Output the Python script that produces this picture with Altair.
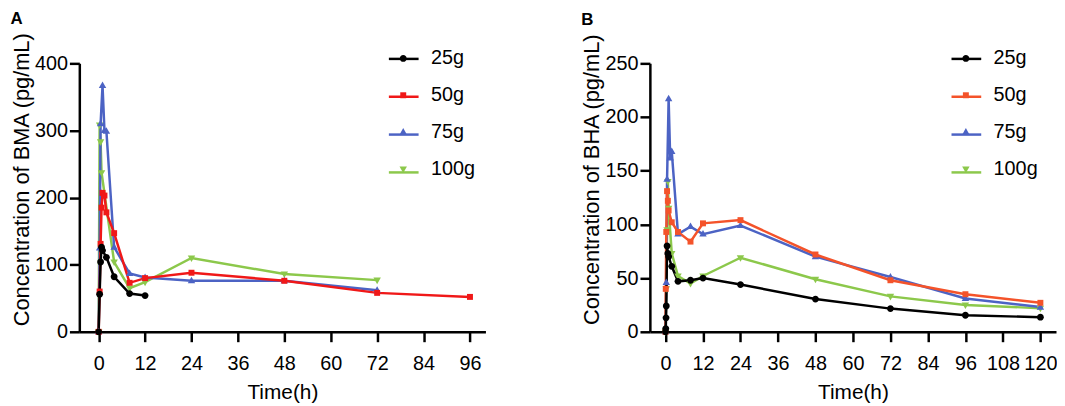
import altair as alt
import pandas as pd

doses = ["25g", "50g", "75g", "100g"]

# Panel A (BMA)
a_t_25 = [0, 0.25, 0.5, 0.75, 1, 2, 4, 8, 12]
a_v_25 = [0, 56, 104, 126, 121, 111, 82, 57, 54]
a_t_50 = [0, 0.25, 0.5, 0.75, 1, 1.5, 2, 4, 8, 12, 24, 48, 72, 96]
a_v_50 = [0, 60, 131, 185, 207, 203, 178, 147, 73, 80, 88, 76, 58, 52]
a_t_75 = [0, 0.25, 0.5, 1, 1.5, 2, 4, 8, 12, 24, 48, 72]
a_v_75 = [0, 125, 310, 367, 300, 299, 126, 87, 81, 76, 76, 62]
a_t_100 = [0, 0.25, 0.5, 0.75, 4, 8, 12, 24, 48, 72]
a_v_100 = [0, 308, 283, 237, 104, 65, 74, 110, 86, 77]

# Panel B (BHA)
b_t_25 = [0, 0.083, 0.17, 0.25, 0.5, 0.75, 1, 2, 4, 8, 12, 24, 48, 72, 96, 120]
b_v_25 = [0, 3, 13, 24, 80, 73, 70, 61, 47, 48, 50, 44, 30.5, 21.6, 15.4, 13.6]
b_t_50 = [0, 0.083, 0.25, 0.5, 0.75, 1, 2, 4, 8, 12, 24, 48, 72, 96, 120]
b_v_50 = [0, 40, 93, 131, 122, 113, 102, 93, 84, 101, 104, 72, 48, 35, 27]
b_t_75 = [0, 0.25, 0.5, 1, 1.5, 2, 4, 8, 12, 24, 48, 72, 96, 120]
b_v_75 = [0, 46, 142, 217, 162, 168, 91, 98, 91, 99, 70, 51, 31, 23]
b_t_100 = [0, 0.25, 0.5, 0.75, 1, 2, 4, 8, 12, 24, 48, 72, 96, 120]
b_v_100 = [0, 40, 95, 140, 115, 73, 52, 45, 52, 69, 49, 33, 25, 22]

x_ticks_a = [0, 12, 24, 36, 48, 60, 72, 84, 96]
x_ticks_b = [0, 12, 24, 36, 48, 60, 72, 84, 96, 108, 120]
y_ticks_a = [0, 100, 200, 300, 400]
y_ticks_b = [0, 50, 100, 150, 200, 250]

colors_a = ["#000000", "#F01818", "#4C63C4", "#8CC84B"]
colors_b = ["#000000", "#F4532A", "#4C63C4", "#8CC84B"]

# marker outlines in symbol units (drawn at size 900 -> 30px unit box)
marker_paths = [
    "M0.23,0A0.23,0.23,0,1,1,-0.23,0A0.23,0.23,0,1,1,0.23,0Z",
    "M-0.2,-0.2L0.2,-0.2L0.2,0.2L-0.2,0.2Z",
    "M0,-0.27L0.25,0.17L-0.25,0.17Z",
    "M0,0.27L0.25,-0.17L-0.25,-0.17Z",
]

doses_line = [d + " " for d in doses]


def make_df(series):
    rows = []
    # draw order: green, blue, red, black (black on top)
    for dose, ts, vs in reversed(series):
        for t, v in zip(ts, vs):
            rows.append({"time": t, "conc": v, "dose": dose, "dose_l": dose + " "})
    return pd.DataFrame(rows)


df_a = make_df([("25g", a_t_25, a_v_25), ("50g", a_t_50, a_v_50),
                ("75g", a_t_75, a_v_75), ("100g", a_t_100, a_v_100)])
df_b = make_df([("25g", b_t_25, b_v_25), ("50g", b_t_50, b_v_50),
                ("75g", b_t_75, b_v_75), ("100g", b_t_100, b_v_100)])

FONT = "Liberation Sans"


def panel(df, letter, xdom, xticks, ydom, yticks, ytitle, colors, legx):
    x = alt.X("time:Q", scale=alt.Scale(domain=xdom, nice=False, zero=False),
              axis=alt.Axis(values=xticks, title="Time(h)", titlePadding=8,
                            labelPadding=12))
    y = alt.Y("conc:Q", scale=alt.Scale(domain=ydom, nice=False, zero=False),
              axis=alt.Axis(values=yticks, title=ytitle, titleY=117, titlePadding=1,
                            titleFontSize=22, labelPadding=2))
    common = dict(title=None, orient="none", legendX=legx, legendY=-21,
                  symbolSize=900, labelFont=FONT, labelFontSize=20,
                  labelOffset=12, rowPadding=11.2)
    base = alt.Chart(df)
    line = base.mark_line(strokeWidth=2.5).encode(
        x=x, y=y,
        stroke=alt.Stroke("dose_l:N", scale=alt.Scale(domain=doses_line, range=colors),
                          legend=alt.Legend(symbolType="stroke", symbolStrokeWidth=2.5,
                                            labelExpr="''", **common)),
        detail="dose:N")
    pts = base.mark_point(filled=True, size=900, opacity=1, strokeWidth=0).encode(
        x=x, y=y,
        color=alt.Color("dose:N", scale=alt.Scale(domain=doses, range=colors),
                        legend=alt.Legend(labelColor="black", **common)),
        shape=alt.Shape("dose:N", scale=alt.Scale(domain=doses, range=marker_paths),
                        legend=alt.Legend(labelColor="black", **common)))
    return alt.layer(line, pts).properties(
        width=410, height=271,
        title=alt.TitleParams(letter, anchor="start", frame="bounds", fontSize=17,
                              fontWeight="bold", font=FONT, offset=4, color="black"))


pa = panel(df_a, "A", [-5, 100], x_ticks_a, [0, 400], y_ticks_a,
           "Concentration of BMA (pg/mL)", colors_a, 311)
pb = panel(df_b, "B", [-5, 125], x_ticks_b, [0, 250], y_ticks_b,
           "Concentration of BHA (pg/mL)", colors_b, 303)

chart = alt.hconcat(pa, pb, spacing=96).resolve_scale(
    color="independent", stroke="independent", shape="independent"
).properties(padding={"left": 2, "top": 0, "right": 0, "bottom": 0}).configure_view(
    stroke=None
).configure_axis(
    domainColor="black", domainWidth=2.5, tickColor="black", tickWidth=2.5,
    tickSize=10, labelFont=FONT, labelFontSize=20, labelColor="black",
    titleFont=FONT, titleFontSize=21, titleFontWeight="normal",
    titleColor="black", grid=False,
)

chart.save("out.html", embed_options={"renderer": "svg", "actions": False})
